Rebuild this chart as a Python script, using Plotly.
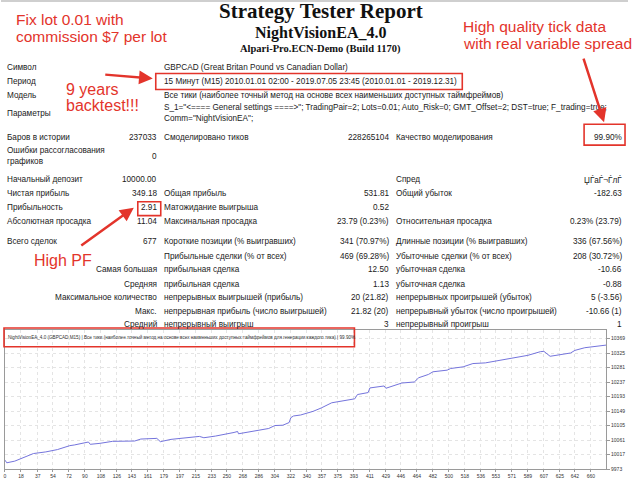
import plotly.graph_objects as go

W, H = 640, 480

# ---- report data ----
title_lines = ["Strategy Tester Report", "NightVisionEA_4.0", "Alpari-Pro.ECN-Demo (Build 1170)"]

info_labels = ["Символ", "Период", "Модель", "Параметры"]
info_values = ["GBPCAD (Great Britan Pound vs Canadian Dollar)",
               "15 Минут (M15) 2010.01.01 02:00 - 2019.07.05 23:45 (2010.01.01 - 2019.12.31)",
               "Все тики (наиболее точный метод на основе всех наименьших доступных таймфреймов)",
               'S_1="<==== General settings ====>"; TradingPair=2; Lots=0.01; Auto_Risk=0; GMT_Offset=2; DST=true; F_trading=true;<br>Comm="NightVisionEA";']

col1_labels = ["Баров в истории", "Ошибки рассогласования<br>графиков", "Начальный депозит", "Чистая прибыль",
               "Прибыльность", "Абсолютная просадка", "Всего сделок", "", "Самая большая", "Средняя",
               "Максимальное количество", "Макс.", "Средний"]
col1_values = ["237033", "0", "10000.00", "349.18", "2.91", "11.04", "677", "", "", "", "", "", ""]
col2_labels = ["Смоделировано тиков", "", "", "Общая прибыль", "Матожидание выигрыша", "Максинальная просадка",
               "Короткие позиции (% выигравших)", "Прибыльные сделки (% от всех)", "прибыльная сделка",
               "прибыльная сделка", "непрерывных выигрышей (прибыль)", "непрерывная прибыль (число выигрышей)",
               "непрерывный выигрыш"]
col2_values = ["228265104", "", "", "531.81", "0.52", "23.79 (0.23%)", "341 (70.97%)", "469 (69.28%)",
               "12.50", "1.13", "20 (21.82)", "21.82 (20)", "3"]
col3_labels = ["Качество моделирования", "", "Спред", "Общий убыток", "", "Относительная просадка",
               "Длинные позиции (% выигравших)", "Убыточные сделки (% от всех)", "убыточная сделка",
               "убыточная сделка", "непрерывных проигрышей (убыток)", "непрерывный убыток (число проигрышей)",
               "непрерывный проигрыш"]
col3_values = ["99.90%", "", "ЏЃаЃ¬ЃлЃ", "-182.63", "", "0.23% (23.79)", "336 (67.56%)", "208 (30.72%)",
               "-10.66", "-0.88", "5 (-3.56)", "-10.66 (1)", "1"]

# ---- balance graph data (trade number -> balance) ----
eq_trades = [0, 2, 11, 23, 32, 46, 59, 73, 78, 94, 96, 107, 121, 146, 153, 171, 175, 187, 210, 219, 224,
             237, 258, 262, 263, 283, 297, 304, 313, 320, 322, 325, 333, 347, 356, 368, 384, 394, 397, 409,
             411, 427, 429, 438, 447, 461, 466, 477, 482, 498, 502, 516, 527, 541, 557, 575, 589, 603, 607,
             614, 621, 637, 642, 653, 677]
eq_balance = [10000, 9992, 9997, 10010, 10020, 10025, 10032, 10044, 10046, 10055, 10048, 10051, 10057,
              10058, 10064, 10066, 10056, 10063, 10069, 10072, 10068, 10073, 10084, 10087, 10080, 10089,
              10096, 10105, 10106, 10114, 10129, 10134, 10137, 10148, 10158, 10174, 10182, 10186, 10199,
              10205, 10219, 10225, 10218, 10226, 10234, 10237, 10250, 10260, 10268, 10273, 10278, 10283,
              10293, 10295, 10303, 10313, 10318, 10329, 10330, 10315, 10318, 10325, 10333, 10341, 10349]
x_ticks = [0, 18, 37, 54, 72, 90, 108, 126, 143, 161, 179, 197, 215, 233, 250, 268, 286, 304, 322, 340,
           357, 375, 393, 411, 429, 446, 464, 482, 500, 518, 536, 553, 571, 589, 607, 625, 642, 660]
y_ticks = [9973, 10017, 10061, 10105, 10149, 10193, 10237, 10281, 10325, 10369]
graph_caption = ("NightVisionEA_4.0 (GBPCAD,M15) | Все тики (наиболее точный метод на основе всех "
                 "наименьших доступных таймфреймов для генерации каждого тика) | 99.90%")

notes = [["Fix lot 0.01 with", "commission $7 per lot"],
         ["High quality tick data", "with real variable spread"],
         ["9 years", "backtest!!!"],
         ["High PF"]]

RED = "#e3342b"
FONT = "Liberation Sans"
TS = 8.2  # table text size


def px(x, y):
    return x / W, 1 - y / H


annotations = []


def txt(x, y, s, anchor="left", size=TS, color="#1a1a1a", family=FONT):
    if not s:
        return
    xp, yp = px(x, y)
    annotations.append(dict(x=xp, y=yp, xref="paper", yref="paper", text=s, showarrow=False,
                            xanchor=anchor, yanchor="middle", align=anchor,
                            font=dict(size=size, color=color, family=family), borderpad=0))


def arrow(x0, y0, x1, y1):
    xp, yp = px(x1, y1)
    annotations.append(dict(x=xp, y=yp, xref="paper", yref="paper", text="", showarrow=True,
                            ax=x0 - x1, ay=y0 - y1, axref="pixel", ayref="pixel",
                            arrowhead=2, arrowsize=1.1, arrowwidth=2.5, arrowcolor=RED))


shapes = []


def box(x0, y0, x1, y1, color=RED, width=1.6):
    a, b = px(x0, y0)
    c, d = px(x1, y1)
    shapes.append(dict(type="rect", xref="paper", yref="paper", x0=a, y0=b, x1=c, y1=d,
                       line=dict(color=color, width=width), fillcolor="rgba(0,0,0,0)"))


# header
txt(320, 11, "<b>" + title_lines[0] + "</b>", "center", 21, "#111", "Liberation Serif")
txt(320, 33, "<b>" + title_lines[1] + "</b>", "center", 16, "#111", "Liberation Serif")
txt(320, 49, "<b>" + title_lines[2] + "</b>", "center", 10.5, "#111", "Liberation Serif")

# info block
info_y = [68, 82, 96, 114]
for lab, val, y in zip(info_labels, info_values, info_y):
    txt(5, y, lab)
    txt(162, y, val)

# numbers block
row_y = [138, 157, 181, 195, 209, 223, 243, 258, 271, 286, 299, 313, 327]
for i, y in enumerate(row_y):
    if i >= 8:
        txt(157, y, col1_labels[i], "right")
    else:
        txt(5, y, col1_labels[i])
    txt(157, y, col1_values[i], "right")
    txt(162, y, col2_labels[i])
    txt(390, y, col2_values[i], "right")
    txt(395, y, col3_labels[i])
    txt(623, y, col3_values[i], "right")

# red notes, one annotation per line
note_pos = [(14, [20, 37]), (462, [27, 44]), (64, [90, 106]), (32, [262])]
note_size = [15.5, 15.5, 16, 16]
for lines, (nx, ys), sz in zip(notes, note_pos, note_size):
    for line, ny in zip(lines, ys):
        txt(nx, ny, line, "left", sz, RED)

arrow(103, 75, 152, 79)
arrow(583, 58, 604, 123)
arrow(79, 248, 133, 209)

box(155, 74, 462, 90)
box(584, 125, 625, 146)
box(137, 203, 160, 217)

# thin grey strip at the top
shapes.append(dict(type="line", xref="paper", yref="paper", x0=0, x1=628 / W, y0=1 - 1 / H, y1=1 - 1 / H,
                   line=dict(color="#cfcfcf", width=2)))

# caption of the graph
box(3, 330, 354, 349)
txt(6, 339, graph_caption, "left", 4.6, "#333")

fig = go.Figure()
fig.add_trace(go.Scatter(x=eq_trades, y=eq_balance, mode="lines",
                         line=dict(color="#7474dc", width=1), hoverinfo="skip"))

fig.update_layout(
    width=W, height=H, autosize=False,
    margin=dict(l=0, r=0, t=0, b=0),
    paper_bgcolor="white", plot_bgcolor="white",
    showlegend=False,
    annotations=annotations, shapes=shapes,
    xaxis=dict(domain=[4 / W, 606 / W], range=[0, 677], tickmode="array", tickvals=x_ticks,
               ticktext=[str(v) for v in x_ticks], tickfont=dict(size=5, color="#333", family=FONT),
               showgrid=True, gridcolor="#e4e4e4", griddash="dot", gridwidth=1,
               showline=True, linecolor="#9a9a9a", linewidth=1, mirror=True,
               ticks="outside", ticklen=2, tickcolor="#9a9a9a", zeroline=False),
    yaxis=dict(domain=[1 - 472 / H, 1 - 332 / H], range=[9973, 10395], side="right",
               tickmode="array", tickvals=y_ticks, ticktext=[str(v) for v in y_ticks],
               tickfont=dict(size=5, color="#333", family=FONT),
               showgrid=True, gridcolor="#e4e4e4", griddash="dot", gridwidth=1,
               showline=True, linecolor="#9a9a9a", linewidth=1, mirror=True,
               ticks="outside", ticklen=3, tickcolor="#9a9a9a", zeroline=False),
)

fig.write_html("out.html", config={"displayModeBar": False},
               post_script="document.body.style.margin='0';")
